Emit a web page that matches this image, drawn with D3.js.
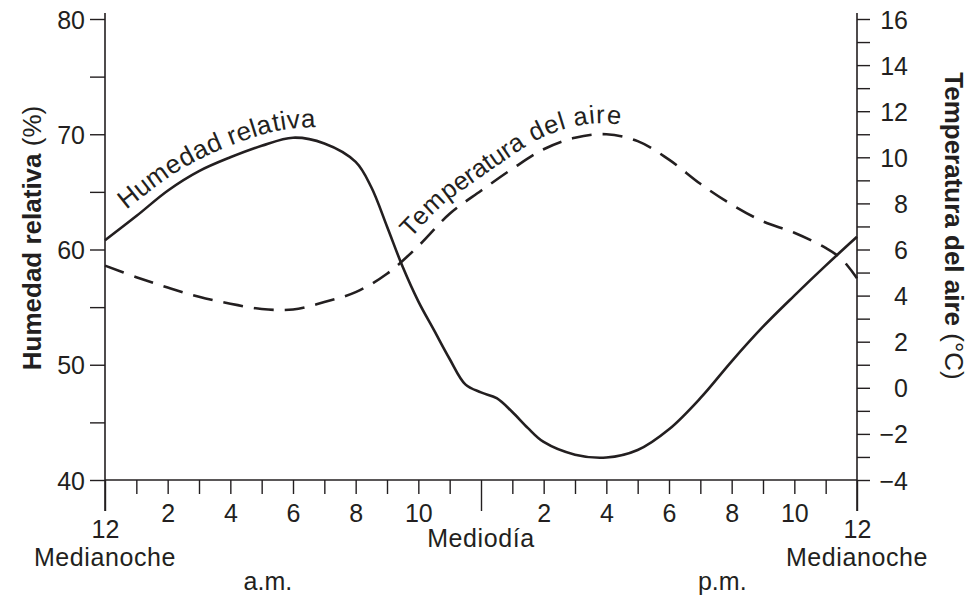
<!DOCTYPE html>
<html><head><meta charset="utf-8">
<script src="https://cdn.jsdelivr.net/npm/d3@7"></script>
<style>
body{margin:0;background:#fff;}
svg{display:block;font-family:"Liberation Sans",Arial,Helvetica,sans-serif;}
.lab{font-kerning:none;text-rendering:geometricPrecision;}
</style></head><body>
<svg id="c" width="971" height="596"></svg>
<script>
// ---- data ----
const humidityHours = [0,1,2,3,4,5,6,7,8,8.5,9,9.5,10,10.5,11,11.5,12,12.5,13,13.5,14,15,16,17,18,19,20,21,22,23,24];
const humidity      = [60.8,62.9,65.1,66.8,68.0,69.0,69.7,69.2,67.6,65.4,62.0,58.5,55.5,53.0,50.5,48.3,47.6,47.1,45.9,44.5,43.3,42.2,41.95,42.6,44.4,47.1,50.3,53.3,56.0,58.6,61.1];
const temperatureHours = [0,1,2,3,4,5,6,7,8,9,10,11,12,13,14,15,16,17,18,19,20,21,22,23,23.5,24];
const temperature      = [5.3,4.8,4.35,3.95,3.65,3.42,3.4,3.72,4.15,4.95,6.15,7.55,8.55,9.5,10.35,10.85,11.0,10.7,9.9,8.85,7.95,7.22,6.73,6.07,5.6,4.75];
const hourTicks = d3.range(0,25);
const hourLabels = ["12","","2","","4","","6","","8","","10","","","","2","","4","","6","","8","","10","","12"];
const humidityTicks = [40,45,50,55,60,65,70,75,80];
const temperatureTicks = d3.range(-4,17,1);
const periodLabels = [{h:0,t:"Medianoche"},{h:12,t:"Mediodía"},{h:24,t:"Medianoche"}];
const ampmLabels = [{h:5.2,t:"a.m."},{h:19.7,t:"p.m."}];
const humidityLabel = "Humedad relativa";
const temperatureLabel = "Temperatura del aire";

// ---- layout ----
const ink = "#231f20";
const svg = d3.select("#c");
const x = d3.scaleLinear().domain([0,24]).range([105,857]);
const yL = d3.scaleLinear().domain([40,80]).range([480,19]);
const yR = d3.scaleLinear().domain([-4,16]).range([480,19]);

// left axis
const gL = svg.append("g").attr("transform","translate(105,0)")
  .call(d3.axisLeft(yL).tickValues(humidityTicks).tickSize(15).tickPadding(5)
        .tickFormat(d => d % 10 === 0 ? d : ""));
gL.select(".domain").remove();
gL.selectAll(".tick line").attr("stroke",ink).attr("stroke-width",1.4);
gL.selectAll(".tick text").attr("fill",ink).style("font-size","25px").attr("dy","0.36em");

// right axis
const gR = svg.append("g").attr("transform","translate(857,0)")
  .call(d3.axisRight(yR).tickValues(temperatureTicks).tickSize(13)
        .tickFormat(d => d % 2 === 0 ? d3.format("")(d) : ""));
gR.select(".domain").remove();
gR.selectAll(".tick line").attr("stroke",ink).attr("stroke-width",1.4);
gR.selectAll(".tick text").attr("fill",ink).style("font-size","25px")
  .attr("text-anchor","end").attr("x",51).attr("dy","0.36em");

// bottom axis
const gB = svg.append("g").attr("transform","translate(0,480)")
  .call(d3.axisBottom(x).tickValues(hourTicks).tickSize(14)
        .tickFormat((d,i) => hourLabels[i]));
gB.selectAll(".tick line").attr("stroke",ink).attr("stroke-width",1.4)
  .attr("y2", d => (d % 12 === 0) ? 31 : 14);
gB.select(".domain").remove();
gB.selectAll(".tick text").attr("fill",ink).style("font-size","25px")
  .attr("dy",0).attr("y", d => (d % 12 === 0 && d !== 12) ? 58 : 42);

// axis lines
svg.append("line").attr("x1",x(0)).attr("x2",x(24)).attr("y1",yL(40)).attr("y2",yL(40))
  .attr("stroke",ink).attr("stroke-width",1.6);
svg.append("line").attr("x1",x(0)).attr("x2",x(0)).attr("y1",13).attr("y2",511)
  .attr("stroke",ink).attr("stroke-width",1.6);
svg.append("line").attr("x1",x(24)).attr("x2",x(24)).attr("y1",13).attr("y2",511)
  .attr("stroke",ink).attr("stroke-width",1.6);

// period labels
svg.selectAll("text.period").data(periodLabels).join("text").attr("class","period")
  .attr("x", d => x(d.h)).attr("y", d => d.h === 12 ? 547 : 566)
  .attr("text-anchor","middle").attr("fill",ink).style("font-size","25px")
  .style("letter-spacing","0.6px").text(d => d.t);
svg.selectAll("text.ampm").data(ampmLabels).join("text").attr("class","ampm")
  .attr("x", d => x(d.h)).attr("y", 590)
  .attr("text-anchor","middle").attr("fill",ink).style("font-size","25px").text(d => d.t);

// axis titles
const tl = svg.append("text").attr("transform","translate(41,238) rotate(-90)")
  .attr("text-anchor","middle").attr("fill",ink).style("font-size","26px");
tl.append("tspan").style("font-weight","bold").text("Humedad relativa");
tl.append("tspan").text(" (%)");
const tr = svg.append("text").attr("transform","translate(945,226) rotate(90)")
  .attr("text-anchor","middle").attr("fill",ink).style("font-size","26px");
tr.append("tspan").style("font-weight","bold").text("Temperatura del aire");
tr.append("tspan").text(" (°C)");

// lines
const humLine = d3.line().x((d,i) => x(humidityHours[i])).y(d => yL(d)).curve(d3.curveCatmullRom.alpha(0.5));
const tempLine = d3.line().x((d,i) => x(temperatureHours[i])).y(d => yR(d)).curve(d3.curveCatmullRom.alpha(0.5));

const humPath = svg.append("path").attr("id","humPath").attr("d", humLine(humidity))
  .attr("fill","none").attr("stroke",ink).attr("stroke-width",2.6);
const tempPath = svg.append("path").attr("id","tempPath").attr("d", tempLine(temperature))
  .attr("fill","none").attr("stroke",ink).attr("stroke-width",2.6)
  .attr("stroke-dasharray","20,11");

// label guide for humidity: rising part of the series up to its peak, held flat after it
const peakIdx = d3.maxIndex(humidity);
const guidePts = humidityHours.slice(0, peakIdx+1).map((h,i) => [x(h), yL(humidity[i])]);
guidePts.push([x(humidityHours[peakIdx+2]), yL(humidity[peakIdx])]);
const humGuide = svg.append("path").attr("id","humGuide")
  .attr("d", d3.line().curve(d3.curveBasis)(guidePts)).attr("fill","none").attr("stroke","none");

function offsetAtX(node, xt){
  let lo = 0, hi = node.getTotalLength();
  for (let k = 0; k < 40; k++){
    const m = (lo+hi)/2;
    if (node.getPointAtLength(m).x < xt) lo = m; else hi = m;
  }
  return lo;
}

svg.append("text").attr("class","lab").attr("dy",-11).attr("fill",ink).style("font-size","26px")
  .append("textPath").attr("href","#humGuide")
  .attr("startOffset", offsetAtX(humGuide.node(), x(0.9)))
  .text(humidityLabel);
svg.append("text").attr("class","lab").attr("dy",-11).attr("fill",ink).style("font-size","25.5px")
  .append("textPath").attr("href","#tempPath")
  .attr("startOffset", offsetAtX(tempPath.node(), x(10.0)))
  .text(temperatureLabel);
</script>
</body></html>
